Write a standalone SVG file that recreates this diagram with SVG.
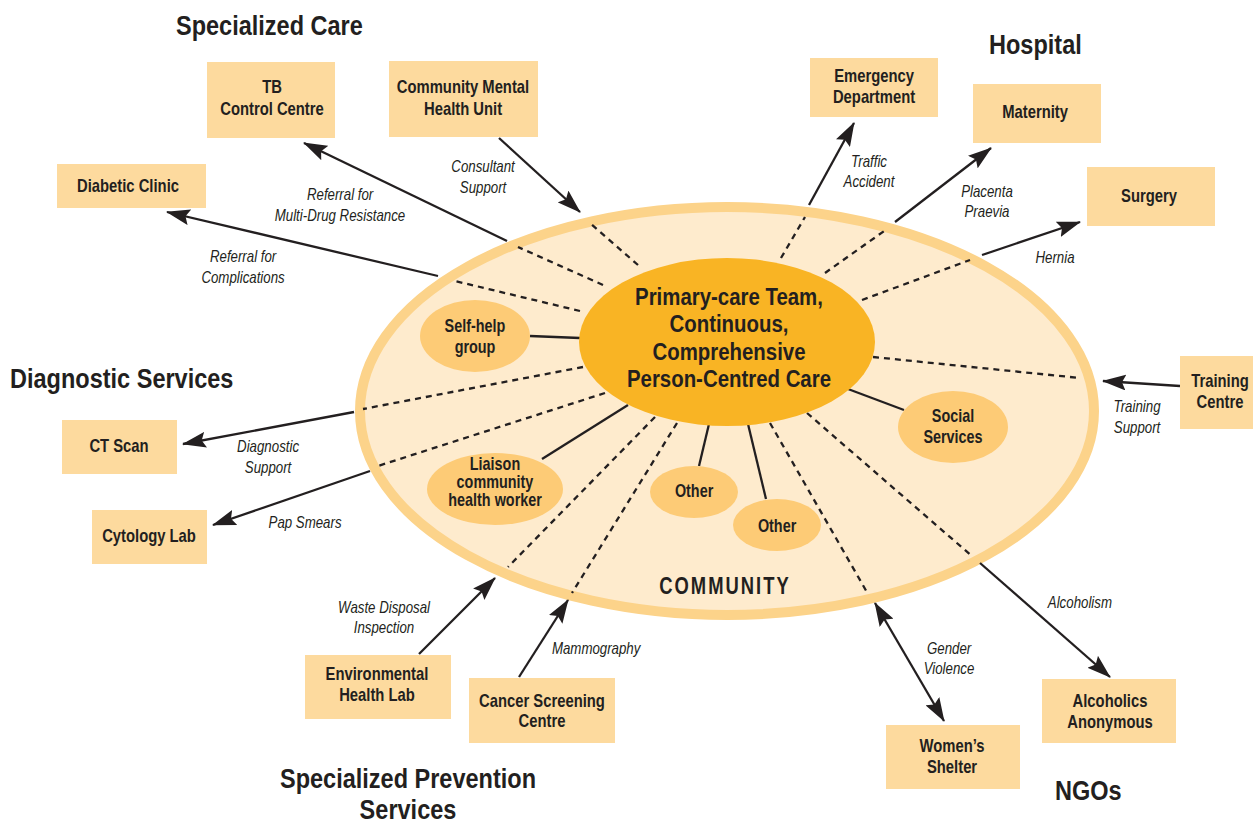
<svg xmlns="http://www.w3.org/2000/svg" width="1253" height="823" viewBox="0 0 1253 823">
<defs>
<marker id="ah" viewBox="0 0 24 16" refX="23" refY="8" markerWidth="24" markerHeight="16" markerUnits="userSpaceOnUse" orient="auto-start-reverse">
<path d="M0,0 L24,8 L0,16 L4,8 z" fill="#231F20"/>
</marker>
<style>
text{font-family:"Liberation Sans",Arial,sans-serif;fill:#231F20;transform-box:fill-box;transform-origin:center;transform:scaleX(0.8)}
.h{font-size:28px;font-weight:bold;transform-origin:left center;transform:scaleX(0.84)}
.hm{transform-origin:center}
.b{font-size:18.5px;font-weight:bold;text-anchor:middle}
.e{font-size:18px;font-weight:bold;text-anchor:middle}
.c{font-size:24px;font-weight:bold;text-anchor:middle;transform:scaleX(0.85)}
.l{font-size:16px;font-style:italic;text-anchor:middle;transform:scaleX(0.83)}
.box{fill:#FDDA9E}
.sm{fill:#FDCB76}
.arr{stroke:#231F20;stroke-width:2.3;fill:none;marker-end:url(#ah)}
.sol{stroke:#231F20;stroke-width:2.3;fill:none}
.dash{stroke:#231F20;stroke-width:2.3;fill:none;stroke-dasharray:6 5}
</style>
</defs>
<rect width="1253" height="823" fill="#FFFFFF"/>

<g id="community">
<ellipse cx="727" cy="411" rx="367" ry="204" fill="#FEEBCD" stroke="#FCD38A" stroke-width="10"/>
<text x="725" y="594" style="font-size:23px;font-weight:bold;letter-spacing:2.5px;text-anchor:middle">COMMUNITY</text>
</g>

<g id="connectors">
<!-- dashed interior segments -->
<line class="dash" x1="603" y1="285" x2="518" y2="247"/>
<line class="dash" x1="580" y1="311" x2="455" y2="281"/>
<line class="dash" x1="638" y1="265" x2="590" y2="223"/>
<line class="dash" x1="583" y1="367" x2="363" y2="409"/>
<line class="dash" x1="605" y1="393" x2="378" y2="466"/>
<line class="dash" x1="655" y1="417" x2="508" y2="567"/>
<line class="dash" x1="677" y1="423" x2="572" y2="593"/>
<line class="dash" x1="781" y1="258" x2="805" y2="217"/>
<line class="dash" x1="825" y1="273" x2="887" y2="229"/>
<line class="dash" x1="862" y1="300" x2="970" y2="260"/>
<line class="dash" x1="873" y1="357" x2="1080" y2="378"/>
<line class="dash" x1="770" y1="423" x2="868" y2="594"/>
<line class="dash" x1="807" y1="413" x2="973" y2="557"/>
<!-- solid lines to inner ellipses -->
<line class="sol" x1="530" y1="336" x2="580" y2="338"/>
<line class="sol" x1="542" y1="459" x2="628" y2="405"/>
<line class="sol" x1="699" y1="466" x2="709" y2="424"/>
<line class="sol" x1="766" y1="499" x2="748" y2="424"/>
<line class="sol" x1="904" y1="410" x2="848" y2="389"/>
<!-- arrows -->
<line class="arr" x1="507" y1="241" x2="304" y2="143"/>
<line class="arr" x1="438" y1="276" x2="167" y2="212"/>
<line class="arr" x1="499" y1="138" x2="580" y2="212"/>
<line class="arr" x1="354" y1="412" x2="183" y2="444"/>
<line class="arr" x1="370" y1="471" x2="213" y2="525"/>
<line class="arr" x1="419" y1="654" x2="495" y2="578"/>
<line class="arr" x1="519" y1="677" x2="568" y2="600"/>
<line class="arr" x1="809" y1="205" x2="854" y2="123"/>
<line class="arr" x1="895" y1="222" x2="991" y2="148"/>
<line class="arr" x1="982" y1="255" x2="1080" y2="222"/>
<line class="arr" x1="1180" y1="386" x2="1103" y2="381"/>
<line class="arr" x1="875" y1="603" x2="944" y2="721" style="marker-start:url(#ah)"/>
<line class="arr" x1="980" y1="563" x2="1110" y2="677"/>
<!-- labels -->
<text class="l" x="483" y="172">Consultant</text>
<text class="l" x="483" y="193">Support</text>
<text class="l" x="340" y="200">Referral for</text>
<text class="l" x="340" y="221">Multi-Drug Resistance</text>
<text class="l" x="243" y="262">Referral for</text>
<text class="l" x="243" y="283">Complications</text>
<text class="l" x="268" y="452">Diagnostic</text>
<text class="l" x="268" y="473">Support</text>
<text class="l" x="305" y="528">Pap Smears</text>
<text class="l" x="384" y="613">Waste Disposal</text>
<text class="l" x="384" y="633">Inspection</text>
<text class="l" x="596" y="654">Mammography</text>
<text class="l" x="869" y="167">Traffic</text>
<text class="l" x="869" y="187">Accident</text>
<text class="l" x="987" y="197">Placenta</text>
<text class="l" x="987" y="217">Praevia</text>
<text class="l" x="1055" y="263">Hernia</text>
<text class="l" x="1137" y="412">Training</text>
<text class="l" x="1137" y="433">Support</text>
<text class="l" x="949" y="654">Gender</text>
<text class="l" x="949" y="674">Violence</text>
<text class="l" x="1080" y="608">Alcoholism</text>
</g>

<g id="primary-care">
<ellipse cx="727" cy="342" rx="148" ry="84" fill="#F9B424"/>
<text class="c" x="729" y="305">Primary-care Team,</text>
<text class="c" x="729" y="332">Continuous,</text>
<text class="c" x="729" y="360">Comprehensive</text>
<text class="c" x="729" y="387">Person-Centred Care</text>
</g>

<g id="self-help">
<ellipse class="sm" cx="475" cy="336" rx="55" ry="36"/>
<text class="e" x="475" y="332">Self-help</text>
<text class="e" x="475" y="353">group</text>
</g>
<g id="liaison">
<ellipse class="sm" cx="495" cy="489" rx="68" ry="36"/>
<text class="e" x="495" y="470">Liaison</text>
<text class="e" x="495" y="488">community</text>
<text class="e" x="495" y="506">health worker</text>
</g>
<g id="other1">
<ellipse class="sm" cx="694" cy="492" rx="44" ry="26"/>
<text class="e" x="694" y="497">Other</text>
</g>
<g id="other2">
<ellipse class="sm" cx="777" cy="525" rx="44" ry="26"/>
<text class="e" x="777" y="532">Other</text>
</g>
<g id="social">
<ellipse class="sm" cx="953" cy="427" rx="55" ry="36"/>
<text class="e" x="953" y="422">Social</text>
<text class="e" x="953" y="443">Services</text>
</g>

<g id="tb">
<rect class="box" x="207" y="62" width="128" height="76"/>
<text class="b" x="272" y="93">TB</text>
<text class="b" x="272" y="115">Control Centre</text>
</g>
<g id="cmhu">
<rect class="box" x="389" y="61" width="149" height="76"/>
<text class="b" x="463" y="93">Community Mental</text>
<text class="b" x="463" y="115">Health Unit</text>
</g>
<g id="diabetic">
<rect class="box" x="57" y="164" width="149" height="44"/>
<text class="b" x="128" y="192">Diabetic Clinic</text>
</g>
<g id="ctscan">
<rect class="box" x="62" y="420" width="115" height="54"/>
<text class="b" x="119" y="452">CT Scan</text>
</g>
<g id="cytology">
<rect class="box" x="92" y="510" width="115" height="54"/>
<text class="b" x="149" y="542">Cytology Lab</text>
</g>
<g id="envlab">
<rect class="box" x="305" y="655" width="146" height="64"/>
<text class="b" x="377" y="680">Environmental</text>
<text class="b" x="377" y="701">Health Lab</text>
</g>
<g id="cancer">
<rect class="box" x="469" y="678" width="146" height="65"/>
<text class="b" x="542" y="707">Cancer Screening</text>
<text class="b" x="542" y="727">Centre</text>
</g>
<g id="emergency">
<rect class="box" x="810" y="58" width="128" height="59"/>
<text class="b" x="874" y="82">Emergency</text>
<text class="b" x="874" y="103">Department</text>
</g>
<g id="maternity">
<rect class="box" x="973" y="84" width="128" height="59"/>
<text class="b" x="1035" y="118">Maternity</text>
</g>
<g id="surgery">
<rect class="box" x="1087" y="167" width="128" height="59"/>
<text class="b" x="1149" y="202">Surgery</text>
</g>
<g id="training">
<rect class="box" x="1180" y="356" width="80" height="73"/>
<text class="b" x="1220" y="387">Training</text>
<text class="b" x="1220" y="408">Centre</text>
</g>
<g id="shelter">
<rect class="box" x="886" y="725" width="134" height="64"/>
<text class="b" x="952" y="752">Women’s</text>
<text class="b" x="952" y="773">Shelter</text>
</g>
<g id="aa">
<rect class="box" x="1042" y="679" width="134" height="64"/>
<text class="b" x="1110" y="707">Alcoholics</text>
<text class="b" x="1110" y="728">Anonymous</text>
</g>

<g id="headings">
<text class="h" x="176" y="35">Specialized Care</text>
<text class="h" x="989" y="54">Hospital</text>
<text class="h" x="10" y="388">Diagnostic Services</text>
<text class="h hm" x="408" y="788" text-anchor="middle">Specialized Prevention</text>
<text class="h hm" x="408" y="819" text-anchor="middle">Services</text>
<text class="h" x="1055" y="800">NGOs</text>
</g>
</svg>
